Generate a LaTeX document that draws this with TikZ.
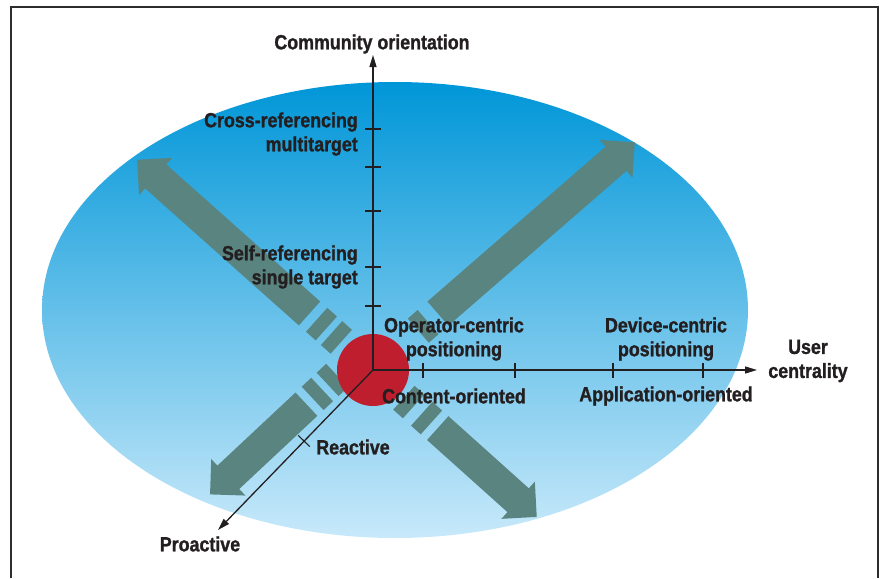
\documentclass[tikz,border=0pt]{standalone}
\usepackage{fontspec}
\newfontfamily\lblfont{Liberation Sans}[FakeStretch=0.87, FakeBold=1.2]
\usetikzlibrary{arrows.meta,calc}
\definecolor{ink}{RGB}{35,31,32}
\definecolor{skytop}{RGB}{0,150,216}
\definecolor{skymid}{RGB}{70,176,230}
\definecolor{skybot}{RGB}{200,233,250}
\definecolor{slate}{RGB}{90,132,128}
\definecolor{core}{RGB}{190,30,45}
\definecolor{framegray}{RGB}{45,45,45}

% broad slate arrow: origin, direction (degrees, y pointing down),
% list of dash intervals, start of the shaft, distance of the tip
\newcommand{\slatearrow}[5]{%
  \begin{scope}[shift={#1}, rotate={-1*(#2)}]
    \foreach \da/\db in {#3} { \fill[band] (\da,-16) rectangle (\db,16); }
    \fill[band] (#4,-16) -- ({#5-25},-16) -- ({#5-25},-25) -- (#5,0)
      -- ({#5-25},25) -- ({#5-25},16) -- (#4,16) -- cycle;
  \end{scope}}

\begin{document}
\begin{tikzpicture}[x=1pt,y=-1pt,
  lbl/.style={font=\lblfont\bfseries\fontsize{20.5}{24}\selectfont, text=ink,
    inner sep=0pt, align=center},
  axis/.style={draw=ink, line width=1.3pt, -{Triangle[length=12pt,width=7pt]}},
  tickmark/.style={draw=ink, line width=1.1pt},
  band/.style={fill=slate},
  hub/.style={fill=core}]
\useasboundingbox (0,0) rectangle (880,578);

% open frame
\draw[framegray, line width=2pt] (11,578) -- (11,7) -- (878,7) -- (878,578);

% shaded field
\shade[top color=skytop, middle color=skymid, bottom color=skybot]
  (395,310) ellipse [x radius=353, y radius=228];

% four broad arrows around the hub
\slatearrow{(373,370)}{-41}{60/73}{86}{347}
\slatearrow{(373,370)}{-138.3}{42.5/55.5,62.5/75.5}{85}{316}
\slatearrow{(373,370)}{41.9}{41.5/54.5,65.5/78.5}{87}{220}
\slatearrow{(359,355)}{136.9}{30/43,50.5/63.5}{72}{204}

% hub
\fill[hub] (373,370) circle [radius=36];

% axes
\coordinate (O) at (373,370);
\coordinate (ytip) at (373,55);
\coordinate (xtip) at (757,370);
\coordinate (ztip) at (218,530);
\draw[axis] (O) -- (ytip);
\draw[axis] (O) -- (xtip);
\draw[axis] (O) -- (ztip);

\foreach \ty in {129,167,211,267,306} \draw[tickmark] (365,\ty) -- (381,\ty);
\foreach \tx in {423,515,613,703} \draw[tickmark] (\tx,363) -- (\tx,378);
\draw[tickmark] (298.3,435.4) -- (309.7,446.6);

% labels
\node[lbl] (community) at (372,44) {Community orientation};
\node[lbl, align=right, anchor=east] (cross) at (358,134) {Cross-referencing\\multitarget};
\node[lbl, align=right, anchor=east] (self) at (358,267) {Self-referencing\\single target};
\node[lbl] (operator) at (454,339) {Operator-centric\\positioning};
\node[lbl] (device) at (666,339) {Device-centric\\positioning};
\node[lbl] (user) at (808,361) {User\\centrality};
\node[lbl] (content) at (454,396) {Content-oriented};
\node[lbl] (application) at (666,396) {Application-oriented};
\node[lbl] (reactive) at (353,447) {Reactive};
\node[lbl] (proactive) at (200,544) {Proactive};
\end{tikzpicture}
\end{document}
